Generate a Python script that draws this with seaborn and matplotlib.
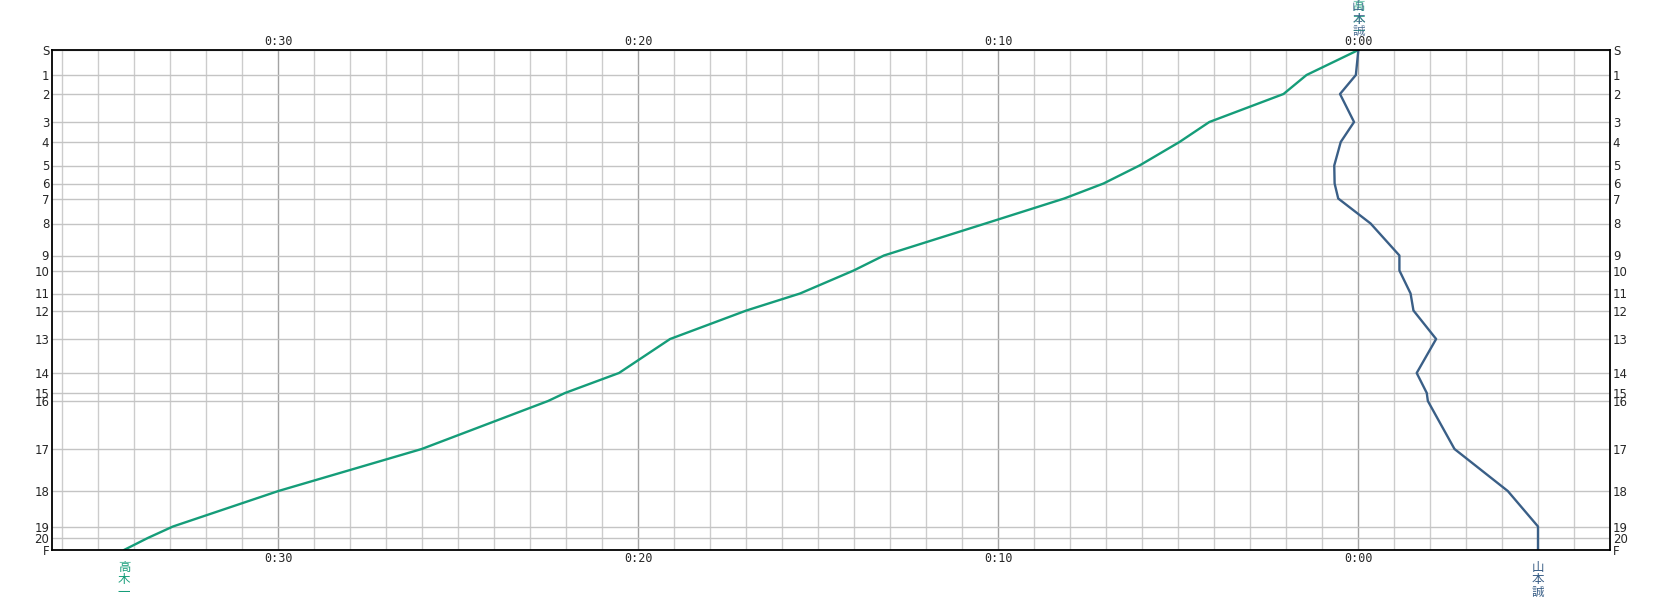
import matplotlib
matplotlib.use("Agg")
import matplotlib.pyplot as plt
import matplotlib.transforms as mtransforms
import pandas as pd
import seaborn as sns

# lap markers (S, 1..20, F) and their vertical position on the chart
laps = ["S"] + [str(i) for i in range(1, 21)] + ["F"]
lap_pos = [0, 25, 44, 72, 92, 115.5, 133.5, 148.5, 173.5, 205.5, 220.5,
           243.5, 260.5, 289, 323, 343, 351, 399, 441, 476.5, 488, 500]

# time gap in minutes (positive = behind, drawn to the left)
gap_takagi = [0, 1.44, 2.08, 4.14, 4.97, 6.08, 7.08, 8.17, 10.36, 13.18, 14.02,
              15.51, 17.0, 19.12, 20.54, 22.04, 22.51, 26.02, 30.0, 32.93, 33.63, 34.29]
gap_yamamoto = [0, 0.07, 0.51, 0.12, 0.49, 0.67, 0.66, 0.56, -0.34, -1.14, -1.14,
                -1.45, -1.53, -2.16, -1.62, -1.90, -1.93, -2.67, -4.15, -4.99, -4.99, -4.99]

names = ["高木一", "山本誠"]
colors = {"高木一": "#159d79", "山本誠": "#3a5f87"}

major_ticks = [30, 20, 10, 0]
major_labels = ["0:30", "0:20", "0:10", "0:00"]

df = pd.concat([
    pd.DataFrame({"name": names[0], "gap": gap_takagi, "pos": lap_pos}),
    pd.DataFrame({"name": names[1], "gap": gap_yamamoto, "pos": lap_pos}),
])

sns.set_style("white")
plt.rcParams["font.family"] = ["DejaVu Sans"]

fig = plt.figure(figsize=(16.62, 6), dpi=100)
ax = fig.add_axes([52 / 1662, 50 / 600, 1558 / 1662, 500 / 600])

# grid: every minute light, every ten minutes darker
for m in range(-6, 37):
    c = "#a3a3a3" if m % 10 == 0 else "#cccccc"
    ax.axvline(m, color=c, lw=1.0, zorder=0)
for p in lap_pos:
    ax.axhline(p, color="#c4c4c4", lw=1.0, zorder=0)

sns.lineplot(data=df, x="gap", y="pos", hue="name", units="name", estimator=None,
             sort=False, palette=colors, lw=1.7, legend=False, ax=ax)

ax.set_xlim(36.29, -6.99)
ax.set_ylim(500, 0)
ax.set_xlabel("")
ax.set_ylabel("")

ax.set_xticks(major_ticks)
ax.set_xticklabels(major_labels, fontfamily="DejaVu Sans Mono", fontsize=8.5)
ax.tick_params(axis="x", top=True, labeltop=True, bottom=True, labelbottom=True,
               length=0, pad=1.5)

ax.set_yticks(lap_pos)
ax.set_yticklabels(laps, fontsize=8.5)
ax.tick_params(axis="y", left=True, right=True, labelleft=True, labelright=True,
               length=0, pad=2)

for s in ax.spines.values():
    s.set_color("black")
    s.set_linewidth(1.3)

# rider names: start point on top, finish point at bottom
trans = mtransforms.blended_transform_factory(ax.transData, ax.transAxes)
cjk = ["Noto Sans CJK JP", "DejaVu Sans"]
for name, gaps in zip(names, [gap_takagi, gap_yamamoto]):
    vert = "\n".join(name)
    ax.text(gaps[0], 1.024, vert, transform=trans, ha="center", va="bottom",
            color=colors[name], fontsize=9, family=cjk, linespacing=0.95, alpha=0.85)
    ax.text(gaps[-1], -0.022, vert, transform=trans, ha="center", va="top",
            color=colors[name], fontsize=9, family=cjk, linespacing=0.95)

fig.savefig("out.png", dpi=100)
